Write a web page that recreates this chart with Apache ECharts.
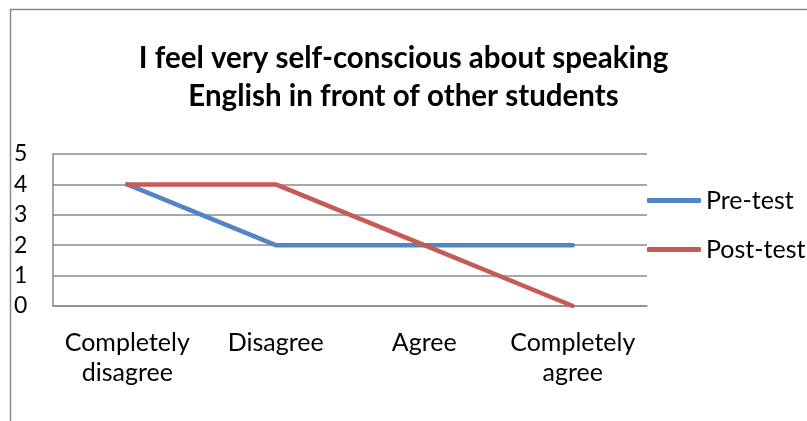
<!DOCTYPE html>
<html>
<head>
<meta charset="utf-8">
<script src="https://cdn.jsdelivr.net/npm/echarts@6/dist/echarts.min.js"></script>
<style>
  html, body { margin: 0; padding: 0; background: #fff; }
  #chart { width: 807px; height: 421px; }
</style>
</head>
<body>
<div id="chart"></div>
<script>
// Survey item: answer categories and response counts
const categories = ['Completely\ndisagree', 'Disagree', 'Agree', 'Completely\nagree'];
const preTest = [4, 2, 2, 2];
const postTest = [4, 4, 2, 0];
const yTicks = [0, 1, 2, 3, 4, 5];

const FONT = 'Lato, "Open Sans", sans-serif';
const GRID_COLOR = '#8a8a8a';

const chart = echarts.init(document.getElementById('chart'), null, { renderer: 'canvas' });

chart.setOption({
  backgroundColor: '#ffffff',
  animation: false,
  title: {
    text: 'I feel very self-conscious about speaking\nEnglish in front of other students',
    left: 'center',
    top: 39,
    padding: [0, 0, 0, 16],
    textStyle: {
      fontFamily: FONT,
      fontWeight: 'bold',
      fontSize: 29.5,
      lineHeight: 38,
      color: '#000'
    }
  },
  graphic: [{
    type: 'rect',
    silent: true,
    shape: { x: 10.5, y: 9.5, width: 1000, height: 1000 },
    style: { fill: null, stroke: GRID_COLOR, lineWidth: 1.5 },
    z: -1
  }],
  legend: {
    orient: 'vertical',
    left: 642,
    top: 183,
    itemWidth: 54,
    itemHeight: 5,
    itemGap: 24,
    icon: 'roundRect',
    textStyle: { fontFamily: FONT, fontSize: 25, color: '#000' },
    data: ['Pre-test', 'Post-test']
  },
  grid: { left: 53, top: 154, right: 160, bottom: 115, containLabel: false },
  xAxis: {
    type: 'category',
    data: categories,
    boundaryGap: true,
    axisLine: { show: true, lineStyle: { color: GRID_COLOR, width: 1.5 } },
    axisTick: { show: false },
    axisLabel: {
      interval: 0,
      margin: 22,
      fontFamily: FONT,
      fontSize: 25,
      lineHeight: 30,
      color: '#000',
      align: 'center'
    },
    splitLine: { show: false }
  },
  yAxis: {
    type: 'value',
    min: yTicks[0],
    max: yTicks[yTicks.length - 1],
    interval: 1,
    axisLine: { show: true, lineStyle: { color: GRID_COLOR, width: 1.5 } },
    axisTick: { show: false },
    axisLabel: {
      align: 'left',
      margin: 39,
      fontFamily: FONT,
      fontSize: 23,
      color: '#000',
      padding: [8, 0, 0, 0]
    },
    splitLine: { show: true, lineStyle: { color: GRID_COLOR, width: 1.5 } }
  },
  series: [
    {
      name: 'Pre-test',
      type: 'line',
      data: preTest,
      symbol: 'none',
      color: '#5385C4',
      lineStyle: { width: 4.5, color: '#5385C4', cap: 'round', join: 'round' }
    },
    {
      name: 'Post-test',
      type: 'line',
      data: postTest,
      symbol: 'none',
      color: '#C65A54',
      lineStyle: { width: 4.5, color: '#C65A54', cap: 'round', join: 'round' }
    }
  ]
});
</script>
</body>
</html>
